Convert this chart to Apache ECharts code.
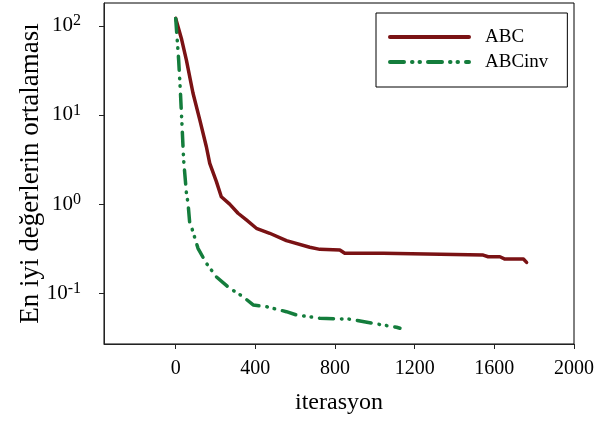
<!doctype html>
<html>
<head>
<meta charset="utf-8">
<title>ABC vs ABCinv</title>
<script src="https://cdn.jsdelivr.net/npm/echarts@6/dist/echarts.min.js"></script>
</head>
<body style="margin:0">
<div id="container" style="width:613px;height:421px"></div>
<script>
var abcIter = [0, 3, 30, 54, 87, 121, 154, 171, 204, 229, 271, 313, 355, 405, 472, 556, 673, 724, 824, 849, 1042, 1050, 1544, 1569, 1628, 1653, 1746, 1762];
var abcVal  = [121, 116, 70, 41, 17.5, 8.8, 4.4, 2.86, 1.8, 1.21, 1.0, 0.79, 0.664, 0.536, 0.471, 0.389, 0.328, 0.311, 0.306, 0.281, 0.281, 0.268, 0.268, 0.257, 0.257, 0.242, 0.242, 0.222];
var invIter = [0, 15, 24, 32, 40, 54, 62, 70, 79, 112, 154, 204, 271, 338, 389, 456, 556, 606, 724, 874, 1009, 1109, 1126];
var invVal  = [121, 41, 17.5, 7.4, 3.1, 1.32, 1.02, 0.63, 0.558, 0.319, 0.217, 0.153, 0.114, 0.0917, 0.074, 0.0708, 0.0622, 0.0571, 0.0525, 0.0513, 0.0453, 0.0416, 0.0405];
var xTicks = [0, 400, 800, 1200, 1600, 2000];
var yTicks = [0.1, 1, 10, 100];

function pairs(xs, ys) {
  var out = [];
  for (var i = 0; i < xs.length; i++) out.push([xs[i], ys[i]]);
  return out;
}

var font = 'Liberation Serif';
var chart = echarts.init(document.getElementById('container'));

var option = {
  animation: false,
  grid: {
    left: 104, right: 39, top: 3, bottom: 77,
    outerBoundsMode: 'none',
    containLabel: false,
    show: true, borderColor: '#000', borderWidth: 1
  },
  legend: {
    orient: 'vertical',
    left: 376, top: 13,
    padding: [14, 19, 15, 12],
    itemGap: 5,
    itemWidth: 79,
    itemHeight: 14,
    borderColor: '#000',
    borderWidth: 1,
    itemStyle: { color: 'transparent', borderColor: 'transparent', borderWidth: 0 },
    lineStyle: { width: 4 },
    textStyle: { fontFamily: font, fontSize: 19, color: '#000', lineHeight: 20, padding: [0, 0, 0, 11] },
    data: ['ABC', 'ABCinv']
  },
  xAxis: {
    type: 'value',
    min: -360, max: 2000,
    name: 'iterasyon',
    nameLocation: 'middle',
    nameGap: 47,
    nameMoveOverlap: false,
    nameTextStyle: { fontFamily: font, fontSize: 24, color: '#000' },
    axisLine: { show: true, onZero: false, lineStyle: { color: '#222' } },
    axisTick: { show: true, length: 5, customValues: xTicks, lineStyle: { color: '#222' } },
    axisLabel: {
      customValues: xTicks, margin: 15, fontFamily: font, fontSize: 20, color: '#000',
      formatter: function (v) { return String(v); }
    },
    splitLine: { show: false }
  },
  yAxis: {
    type: 'log',
    logBase: 10,
    min: 0.027, max: 180,
    name: 'En iyi değerlerin ortalaması',
    nameLocation: 'middle',
    nameGap: 60,
    nameMoveOverlap: false,
    nameTextStyle: { fontFamily: font, fontSize: 27, color: '#000' },
    axisLine: { show: true, onZero: false, lineStyle: { color: '#222' } },
    axisTick: { show: true, length: 5, customValues: yTicks, lineStyle: { color: '#222' } },
    axisLabel: {
      customValues: yTicks,
      margin: 23,
      fontFamily: font, fontSize: 21, color: '#000',
      formatter: function (v) {
        return '10{s|' + Math.round(Math.log10(v)) + '}';
      },
      rich: {
        s: { fontFamily: font, fontSize: 16, color: '#000', verticalAlign: 'top', padding: [0, 0, 9, 0] }
      }
    },
    splitLine: { show: false }
  },
  series: [
    {
      name: 'ABC',
      type: 'line',
      symbol: 'none',
      data: pairs(abcIter, abcVal),
      itemStyle: { color: '#7a1214' },
      lineStyle: { color: '#7a1214', width: 3.5, cap: 'round', join: 'round' }
    },
    {
      name: 'ABCinv',
      type: 'line',
      symbol: 'none',
      data: pairs(invIter, invVal),
      itemStyle: { color: '#147d3c' },
      lineStyle: { color: '#147d3c', width: 3.5, cap: 'round', join: 'round', type: [14, 8, 0.5, 7, 0.5, 8] }
    }
  ]
};

chart.setOption(option);
</script>
</body>
</html>
